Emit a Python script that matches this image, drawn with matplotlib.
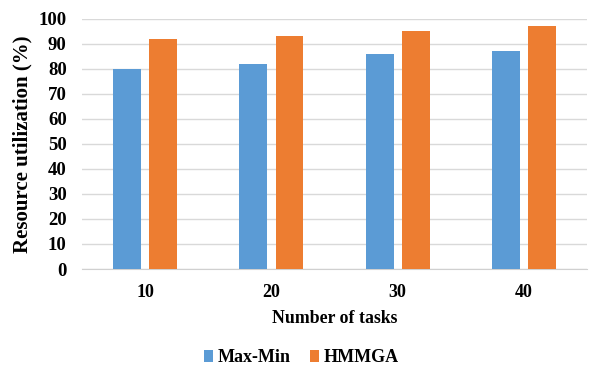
import matplotlib
matplotlib.use('Agg')
import matplotlib.pyplot as plt
import numpy as np

tasks = ['10', '20', '30', '40']
max_min = [80, 82, 86, 87]
hmmga = [92, 93, 95, 97]

plt.rcParams['font.family'] = ['Liberation Serif', 'DejaVu Serif']
plt.rcParams['font.weight'] = 'bold'

fig = plt.figure(figsize=(5.98, 3.69), dpi=100)
ax = fig.add_axes([0.137, 0.271, 0.845, 0.678])

x = np.arange(len(tasks))
width = 0.22
ax.bar(x - 0.143, max_min, width, color='#5B9BD5', label='Max-Min', zorder=3)
ax.bar(x + 0.143, hmmga, width, color='#ED7D31', label='HMMGA', zorder=3)

ax.set_xlim(-0.5, len(tasks) - 0.5)
ax.set_ylim(0, 100)
ax.set_yticks(range(0, 101, 10))
ax.set_xticks(x)
ax.set_xticklabels(tasks)
ax.tick_params(axis='both', length=0)
ax.tick_params(axis='x', pad=11, labelsize=13)
ax.tick_params(axis='y', pad=11, labelsize=13.5)
ax.grid(axis='y', color='#d9d9d9', linewidth=1, zorder=0)
for s in ['top', 'right', 'left']:
    ax.spines[s].set_visible(False)
ax.spines['bottom'].set_color('#d0d0d0')

ax.set_xlabel('Number of tasks', fontsize=12.8, fontweight='bold', labelpad=6)
ax.set_ylabel('Resource utilization (%)', fontsize=15, fontweight='bold', labelpad=4)

ax.legend(loc='center', bbox_to_anchor=(0.434, -0.355), ncol=2, frameon=False,
          fontsize=13, handlelength=0.5, handleheight=0.6, handletextpad=0.25,
          columnspacing=1.1, borderpad=0.2)

fig.savefig('out.png', dpi=100)
